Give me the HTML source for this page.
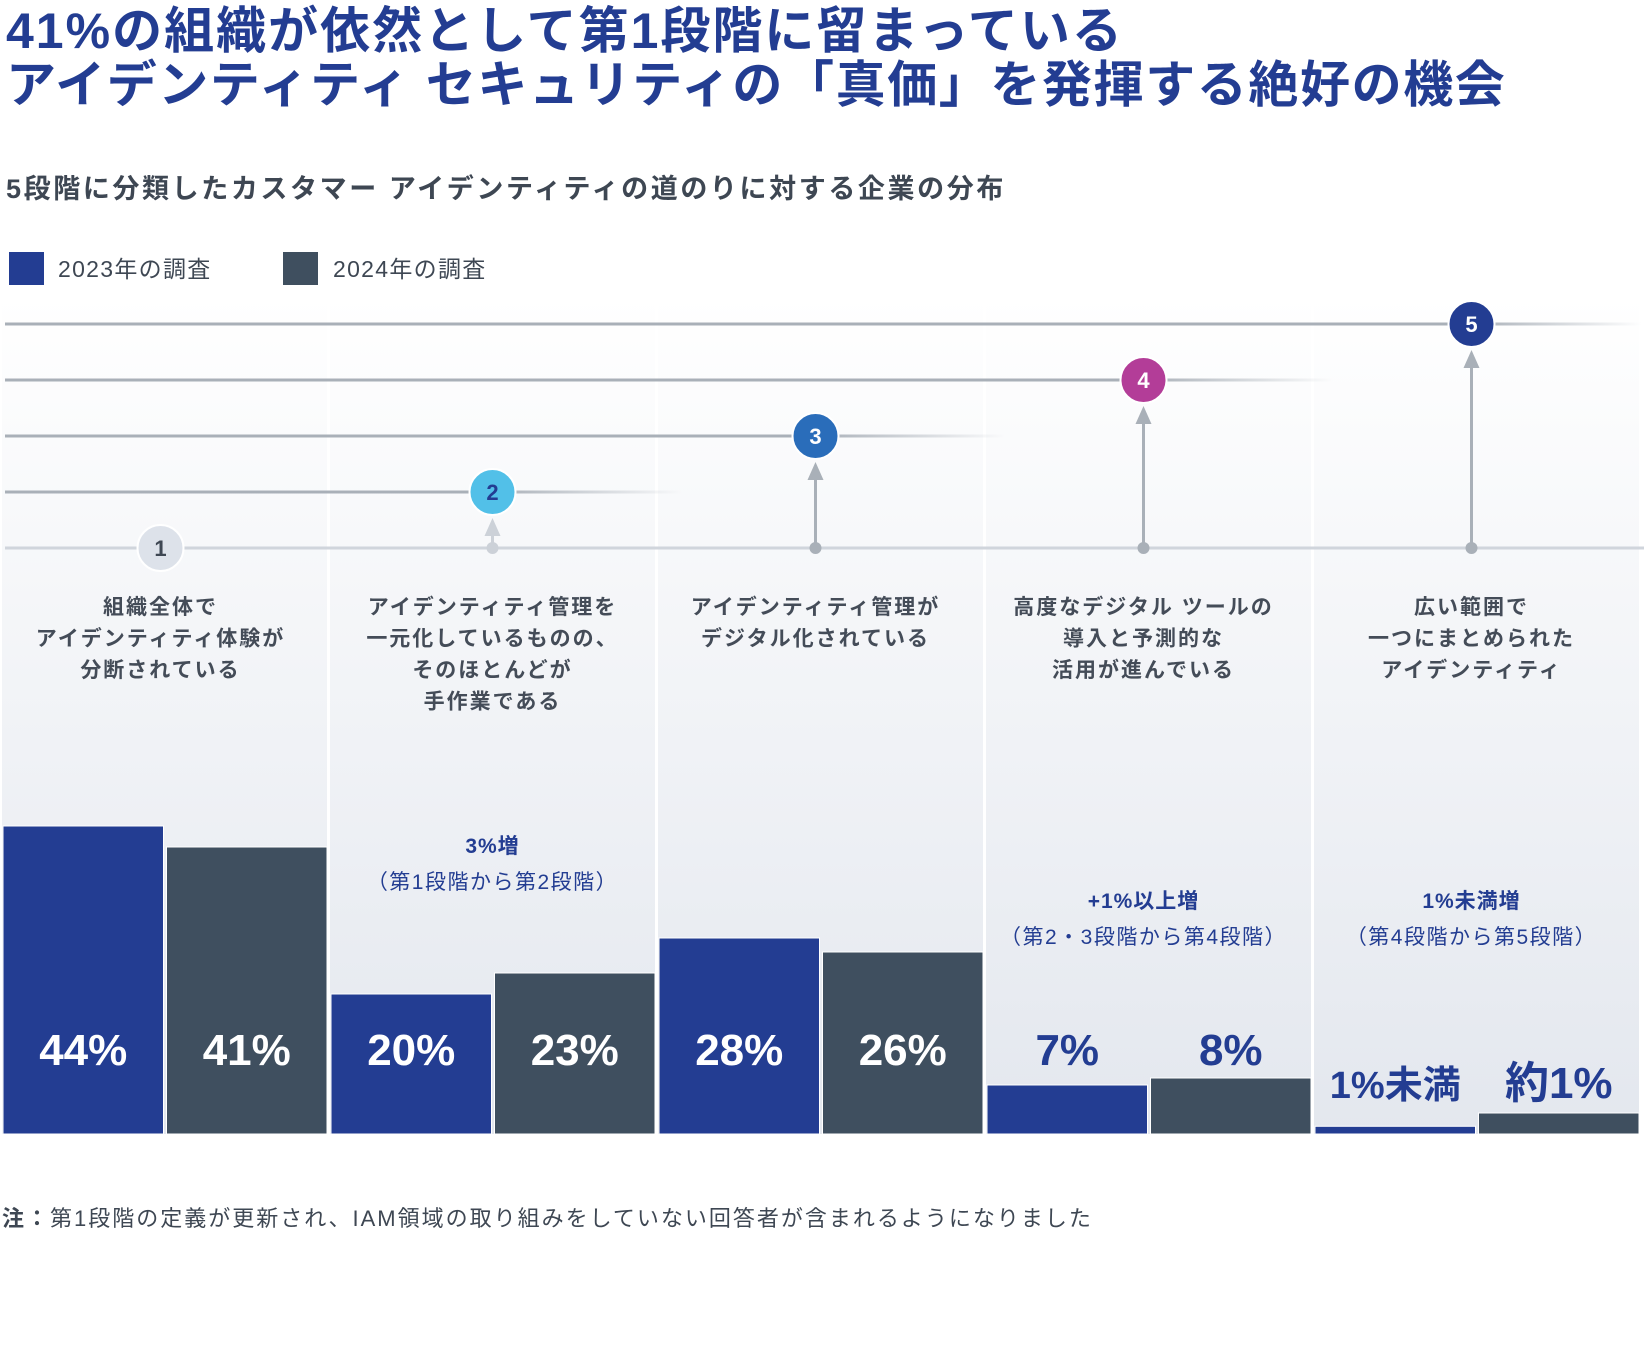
<!DOCTYPE html>
<html><head><meta charset="utf-8">
<style>
html,body{margin:0;padding:0;background:#fff;}
body{width:1644px;height:1350px;overflow:hidden;font-family:"Liberation Sans","Noto Sans CJK JP",sans-serif;}
svg text{font-family:"Liberation Sans","Noto Sans CJK JP",sans-serif;}
</style></head>
<body>
<svg id="chart" width="1644" height="1350" xmlns="http://www.w3.org/2000/svg">
<defs>
<linearGradient id="pg" x1="0" y1="0" x2="0" y2="1">
<stop offset="0" stop-color="#ffffff"/><stop offset="1" stop-color="#e3e7ee"/>
</linearGradient>
<linearGradient id="fade" x1="0" y1="0" x2="1" y2="0">
<stop offset="0" stop-color="#a9b0b8"/><stop offset="1" stop-color="#a9b0b8" stop-opacity="0"/>
</linearGradient>
</defs>
<text x="6" y="48" font-size="50" font-weight="bold" fill="#233d92" letter-spacing="2">41%の組織が依然として第1段階に留まっている</text>
<text x="6" y="102" font-size="50" font-weight="bold" fill="#233d92" letter-spacing="1.6">アイデンティティ セキュリティの「真価」を発揮する絶好の機会</text>
<text x="6" y="198" font-size="27" font-weight="bold" fill="#3e4753" letter-spacing="2.6">5段階に分類したカスタマー アイデンティティの道のりに対する企業の分布</text>
<g>
<rect x="9" y="252" width="35" height="33" fill="#233d92"/>
<text x="58" y="277" font-size="23" fill="#3e4753" letter-spacing="1.3">2023年の調査</text>
<rect x="283" y="252" width="35" height="33" fill="#3f4f5f"/>
<text x="333" y="277" font-size="23" fill="#3e4753" letter-spacing="1.3">2024年の調査</text>
</g>
<g id="panels"></g>
<g id="lines"></g>
<g id="bars"></g>
<text x="2" y="1226" font-size="22" fill="#3e4753" letter-spacing="2"><tspan font-weight="bold">注：</tspan>第1段階の定義が更新され、IAM領域の取り組みをしていない回答者が含まれるようになりました</text>
</svg>
<script>
const stages = ['1','2','3','4','5'];
const values2023 = [44, 20, 28, 7, 1.1];
const values2024 = [41, 23, 26, 8, 3];
const labels2023 = ['44%','20%','28%','7%','1%未満'];
const labels2024 = ['41%','23%','26%','8%','約1%'];
const descriptions = [
  ['組織全体で','アイデンティティ体験が','分断されている'],
  ['アイデンティティ管理を','一元化しているものの、','そのほとんどが','手作業である'],
  ['アイデンティティ管理が','デジタル化されている'],
  ['高度なデジタル ツールの','導入と予測的な','活用が進んでいる'],
  ['広い範囲で','一つにまとめられた','アイデンティティ']
];
const shiftTitles = ['', '3%増', '', '+1%以上増', '1%未満増'];
const shiftNotes = ['', '（第1段階から第2段階）', '', '（第2・3段階から第4段階）', '（第4段階から第5段階）'];

const NS='http://www.w3.org/2000/svg';
function mk(tag, attrs, parent, txt){
  const e=document.createElementNS(NS,tag);
  for(const k in attrs) e.setAttribute(k, attrs[k]);
  if(txt!==undefined) e.textContent=txt;
  parent.appendChild(e); return e;
}
const panelLeft = i => 2 + i*328;
const panelW = 325;
const baseY = 1134;
const yScale = v => baseY - v*7.0;
const circleColors=['#dde2ea','#52c0e8','#2a6dba','#b33d98','#233d92'];
const circleText=['#3e4753','#233d92','#fff','#fff','#fff'];
const lineY = i => 548 - i*56;
const circleX = i => panelLeft(i) + panelW/2 + (i===0?-4:(i===1?0:-5));

const gP=document.getElementById('panels');
const gL=document.getElementById('lines');
const gB=document.getElementById('bars');

stages.forEach((s,i)=>{
  const px=panelLeft(i);
  const p=mk('rect',{x:px,y:296,width:panelW,height:baseY-296,fill:'url(#pg)'},gP);
  
  
  const cx=circleX(i);
  descriptions[i].forEach((ln,j)=>{
    const t=mk('text',{x:cx,y:614+j*31.5,'font-size':21,'font-weight':'bold',fill:'#444c58','text-anchor':'middle','letter-spacing':2},gP,ln);
    
    
  });
  if(shiftTitles[i]){
    const ty = i===1?853:908;
    const t1=mk('text',{x:cx,y:ty,'font-size':21,'font-weight':'bold',fill:'#233d92','text-anchor':'middle','letter-spacing':1},gP,shiftTitles[i]);
    
    
    const t2=mk('text',{x:cx,y:ty+36,'font-size':21,fill:'#233d92','text-anchor':'middle','letter-spacing':1.5},gP,shiftNotes[i]);
    
    
  }
});

stages.forEach((s,i)=>{
  const y=lineY(i), cx=circleX(i);
  const l=mk('line',{x1:5,y1:y,x2:i===0?1644:cx,y2:y,stroke:i===0?'#d0d5dc':'#a9b0b8','stroke-width':3},gL);
  
  
  if(i>0){
    const f=mk('rect',{x:cx,y:y-1.5,width:i===4?170:190,height:3,fill:'url(#fade)'},gL);
    
    
    const col = i===1?'#ccd1d8':'#a9b0b8';
    const a=mk('line',{x1:cx,y1:548,x2:cx,y2:y+40,stroke:col,'stroke-width':3},gL);
    
    
    const h=mk('polygon',{points:`${cx-8},${y+44} ${cx+8},${y+44} ${cx},${y+26}`,fill:col},gL);
    
    
    const d=mk('circle',{cx:cx,cy:548,r:6,fill:col},gL);
    
    
  }
  const c=mk('circle',{cx:cx,cy:y,r:23,fill:circleColors[i],stroke:'#fff','stroke-width':2},gL);
  
  
  const t=mk('text',{x:cx,y:y+8,'font-size':22,'font-weight':'bold',fill:circleText[i],'text-anchor':'middle'},gL,s);
  
  
});

stages.forEach((s,i)=>{
  const px=panelLeft(i), bw=panelW/2-2;
  [[values2023,labels2023,'#233d92','2023',px+1],[values2024,labels2024,'#3f4f5f','2024',px+panelW/2+2]].forEach(([vals,labs,col,yr,x])=>{
    const y=yScale(vals[i]);
    const r=mk('rect',{x:x,y:y,width:bw,height:baseY-y,fill:col,stroke:'#fff','stroke-width':1},gB);
    
    
    const small = vals[i]<12;
    const lab=labs[i];
    const ly = small ? (vals[i]<5?1098:1065) : 1065;
    const t=mk('text',{x:x+bw/2,y:ly,'font-size':lab.length>3?38:44,'font-weight':'bold',fill:small?'#233d92':'#fff','text-anchor':'middle'},gB,lab);
    
    
  });
});
</script>
</body></html>
